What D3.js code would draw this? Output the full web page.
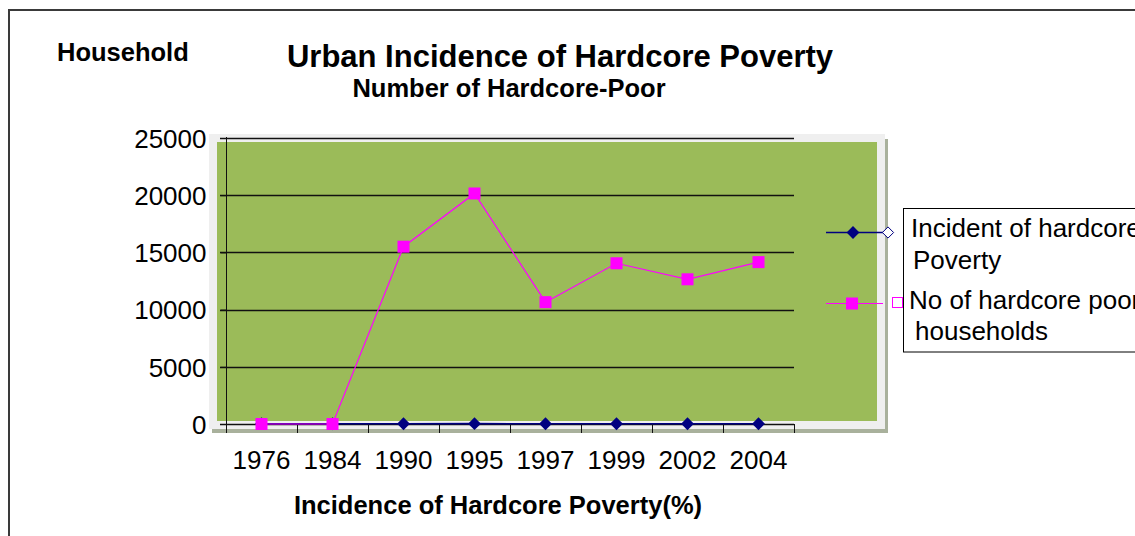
<!DOCTYPE html>
<html>
<head>
<meta charset="utf-8">
<script src="https://cdn.jsdelivr.net/npm/d3@7"></script>
<style>
  html, body { margin: 0; padding: 0; background: #fff; }
  svg { display: block; font-family: "Liberation Sans", Arial, sans-serif; }
</style>
</head>
<body>
<svg id="chart" width="1135" height="536"></svg>
<script>
// Survey years (category axis)
const years = ["1976", "1984", "1990", "1995", "1997", "1999", "2002", "2004"];
// Incidence of hardcore poverty (%), tiny next to household counts
const incidence = [26, 25, 22, 29, 19, 24, 21, 23];
// Number of hardcore-poor urban households
const households = [0, 0, 15500, 20150, 10650, 14050, 12650, 14150];
// Value axis ticks
const yTicks = [0, 5000, 10000, 15000, 20000, 25000];

const svg = d3.select("#chart");

// Outer chart border
svg.append("path")
  .attr("d", "M9,536 V10 H1135")
  .attr("fill", "none").attr("stroke", "#3a3a3a").attr("stroke-width", 2);

// Plot frame: shadow, light panel, green fill
svg.append("rect").attr("x", 212).attr("y", 139).attr("width", 676).attr("height", 294).attr("fill", "#a9b19c");
svg.append("rect").attr("x", 209).attr("y", 134).attr("width", 676).attr("height", 295).attr("fill", "#efefef");
svg.append("rect").attr("x", 217).attr("y", 142).attr("width", 660).attr("height", 279).attr("fill", "#9bbb59");

const x = d3.scaleBand().domain(years).range([226, 794]);
const y = d3.scaleLinear().domain([0, 25000]).range([424, 138]);

// Horizontal gridlines
svg.append("g").selectAll("line").data(yTicks.filter(d => d > 0)).join("line")
  .attr("x1", 220).attr("x2", 794)
  .attr("y1", d => Math.round(y(d)) + 0.5).attr("y2", d => Math.round(y(d)) + 0.5)
  .attr("stroke", "#111").attr("stroke-width", 1.3);

// Value axis
const yAxis = svg.append("g").attr("transform", "translate(226.5,0)")
  .call(d3.axisLeft(y).tickValues(yTicks).tickSize(6).tickPadding(14).tickFormat(d3.format("d")));
yAxis.select(".domain").attr("stroke", "#111").attr("d", "M0," + y(0) + "V" + (y(25000) - 1));
yAxis.selectAll(".tick line").attr("stroke", "#111");
yAxis.selectAll(".tick text").attr("font-size", 26).attr("fill", "#000")
  .attr("font-family", "Liberation Sans, Arial, sans-serif").attr("dy", "0.36em");

// Category axis with boundary ticks
const xAxisG = svg.append("g");
xAxisG.append("line").attr("x1", 220).attr("x2", 794).attr("y1", 424.5).attr("y2", 424.5)
  .attr("stroke", "#111").attr("stroke-width", 1.3);
const bounds = years.map(d => x(d)).concat([x.range()[1]]);
xAxisG.selectAll("line.tk").data(bounds).join("line").attr("class", "tk")
  .attr("x1", d => Math.round(d) + 0.5).attr("x2", d => Math.round(d) + 0.5)
  .attr("y1", 424).attr("y2", 433).attr("stroke", "#111");
xAxisG.selectAll("text").data(years).join("text")
  .attr("x", d => x(d) + x.bandwidth() / 2).attr("y", 469)
  .attr("text-anchor", "middle").attr("font-size", 26).text(d => d);

const cx = d => x(d) + x.bandwidth() / 2;
const line = d3.line().x(d => cx(d[0])).y(d => y(d[1]));
const diamond = d3.symbol().type(d3.symbolDiamond2).size(105);

// Incidence series (navy diamonds)
const incData = years.map((d, i) => [d, incidence[i]]);
svg.append("path").attr("d", line(incData)).attr("fill", "none").attr("stroke", "#000080").attr("stroke-width", 1.6);
svg.append("g").selectAll("path").data(incData).join("path")
  .attr("d", diamond).attr("transform", d => `translate(${cx(d[0])},${y(d[1])})`).attr("fill", "#000080");

// Household series (magenta squares)
const hhData = years.map((d, i) => [d, households[i]]);
svg.append("path").attr("d", line(hhData)).attr("fill", "none").attr("stroke", "#ff00ff").attr("stroke-width", 1.2);
svg.append("g").selectAll("rect").data(hhData).join("rect")
  .attr("x", d => cx(d[0]) - 6).attr("y", d => y(d[1]) - 6)
  .attr("width", 12).attr("height", 12).attr("fill", "#ff00ff");

// Titles
svg.append("text").attr("x", 57).attr("y", 61).attr("font-size", 25.5).attr("font-weight", "bold").text("Household");
svg.append("text").attr("x", 560).attr("y", 67).attr("text-anchor", "middle").attr("font-size", 31).attr("font-weight", "bold")
  .text("Urban Incidence of Hardcore Poverty");
svg.append("text").attr("x", 509).attr("y", 97).attr("text-anchor", "middle").attr("font-size", 25.5).attr("font-weight", "bold")
  .text("Number of Hardcore-Poor");
svg.append("text").attr("x", 498).attr("y", 514).attr("text-anchor", "middle").attr("font-size", 25.5).attr("font-weight", "bold")
  .text("Incidence of Hardcore Poverty(%)");

// Legend
const lg = svg.append("g");
lg.append("rect").attr("x", 903.5).attr("y", 208.5).attr("width", 260).attr("height", 143.5)
  .attr("fill", "#fff").attr("stroke", "#000").attr("stroke-width", 1);
lg.append("line").attr("x1", 826).attr("x2", 884).attr("y1", 232.5).attr("y2", 232.5).attr("stroke", "#000080").attr("stroke-width", 1.3);
lg.append("path").attr("d", diamond).attr("transform", "translate(853,232.5)").attr("fill", "#000080");
lg.append("path").attr("d", d3.symbol().type(d3.symbolDiamond2).size(80)).attr("transform", "translate(888,232.5)")
  .attr("fill", "#fff").attr("stroke", "#000080").attr("stroke-width", 1);
lg.append("line").attr("x1", 826).attr("x2", 883).attr("y1", 303.5).attr("y2", 303.5).attr("stroke", "#ff00ff").attr("stroke-width", 1.2);
lg.append("rect").attr("x", 846).attr("y", 297.5).attr("width", 12).attr("height", 12).attr("fill", "#ff00ff");
lg.append("rect").attr("x", 892.5).attr("y", 297.5).attr("width", 10).attr("height", 10)
  .attr("fill", "#fff").attr("stroke", "#ff00ff").attr("stroke-width", 1);
const legendLines = [
  ["Incident of hardcore", 911, 237],
  ["Poverty", 913, 269],
  ["No of hardcore poor", 909, 309],
  ["households", 915, 340]
];
lg.selectAll("text").data(legendLines).join("text")
  .attr("x", d => d[1]).attr("y", d => d[2]).attr("font-size", 26).text(d => d[0]);
</script>
</body>
</html>
